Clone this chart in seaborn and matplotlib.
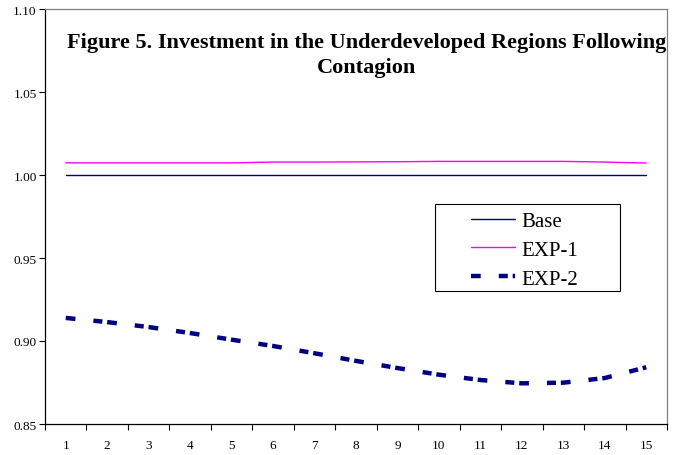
import pandas as pd
import matplotlib
matplotlib.use('Agg')
import matplotlib.pyplot as plt
from matplotlib.ticker import FixedLocator, NullFormatter, FormatStrFormatter
from matplotlib.legend_handler import HandlerLine2D
from matplotlib.patches import Rectangle
import seaborn as sns

# 1. DATA
periods = list(range(1, 16))
base = [1.000] * 15
exp1 = [1.0073, 1.0073, 1.0073, 1.0073, 1.0073, 1.0078, 1.0078, 1.0079,
        1.0080, 1.0082, 1.0082, 1.0082, 1.0082, 1.0078, 1.0072]
exp2 = [0.9139, 0.9114, 0.9084, 0.9048, 0.9008, 0.8970, 0.8926, 0.8880,
        0.8837, 0.8797, 0.8765, 0.8745, 0.8749, 0.8777, 0.8842]
series_names = ['Base', 'EXP-1', 'EXP-2']
y_ticks = [0.85, 0.90, 0.95, 1.00, 1.05, 1.10]
title = 'Figure 5. Investment in the Underdeveloped Regions Following\nContagion'

df = pd.DataFrame({'period': periods * 3,
                   'value': base + exp1 + exp2,
                   'series': sum([[s] * 15 for s in series_names], [])})

# 2. PLOT
sns.set_style('white')
plt.rcParams['font.family'] = ['Liberation Serif', 'DejaVu Serif']
plt.rcParams['lines.scale_dashes'] = False
for key in ['text.color', 'xtick.color', 'ytick.color', 'axes.labelcolor']:
    plt.rcParams[key] = 'black'

W, H = 673, 456
fig = plt.figure(figsize=(W / 100, H / 100), dpi=100)
ax = fig.add_axes([45 / W, 1 - 425 / H, 622 / W, 415 / H])

styles = {
    'Base': dict(color='#000080', linewidth=1.0, linestyle='-'),
    'EXP-1': dict(color='#FF00FF', linewidth=1.0, linestyle='-'),
    'EXP-2': dict(color='#000080', linewidth=3.2, linestyle=(0, (7, 13, 6.5, 3.5))),
}
for name in series_names:
    sub = df[df['series'] == name]
    sns.lineplot(data=sub, x='period', y='value', ax=ax, label=name, **styles[name])

ax.set_xlim(0.5, 15.5)
ax.set_ylim(0.85, 1.10)
ax.set_xlabel('')
ax.set_ylabel('')

# category axis: ticks between categories, labels at centres
ax.xaxis.set_major_locator(FixedLocator([p - 0.5 for p in periods] + [15.5]))
ax.xaxis.set_major_formatter(NullFormatter())
ax.xaxis.set_minor_locator(FixedLocator(periods))
ax.set_xticklabels([str(p) for p in periods], minor=True)
ax.tick_params(axis='x', which='major', length=4, width=0.8, direction='out', bottom=True)
ax.tick_params(axis='x', which='minor', length=0, pad=11, labelsize=9.5)

ax.yaxis.set_major_locator(FixedLocator(y_ticks))
ax.yaxis.set_major_formatter(FormatStrFormatter('%.2f'))
ax.tick_params(axis='y', length=4, width=0.8, direction='out', left=True, labelsize=9.5, pad=2)

for side in ['left', 'bottom']:
    ax.spines[side].set_color('black')
    ax.spines[side].set_linewidth(0.9)
for side in ['top', 'right']:
    ax.spines[side].set_color('#808080')
    ax.spines[side].set_linewidth(0.9)
ax.grid(False)

# legend: Excel-like, handle inset from the box edge
leg = ax.legend(loc='upper left', bbox_to_anchor=(437 / W, 1 - 207 / H),
                bbox_transform=fig.transFigure, borderaxespad=0, fontsize=15,
                frameon=False, handlelength=3.5, handletextpad=0.28,
                labelspacing=0.45, borderpad=0.25,
                handler_map={plt.Line2D: HandlerLine2D(xpad=1.4)})
fig.patches.append(Rectangle((435 / W, 1 - 292 / H), 185 / W, 87 / H,
                             transform=fig.transFigure, fill=False,
                             edgecolor='black', linewidth=0.8, zorder=5))

fig.text(367 / W, 1 - 73 / H, title, ha='center', va='baseline',
         fontsize=16, fontweight='bold', linespacing=1.32)

fig.savefig('out.png', dpi=100)
